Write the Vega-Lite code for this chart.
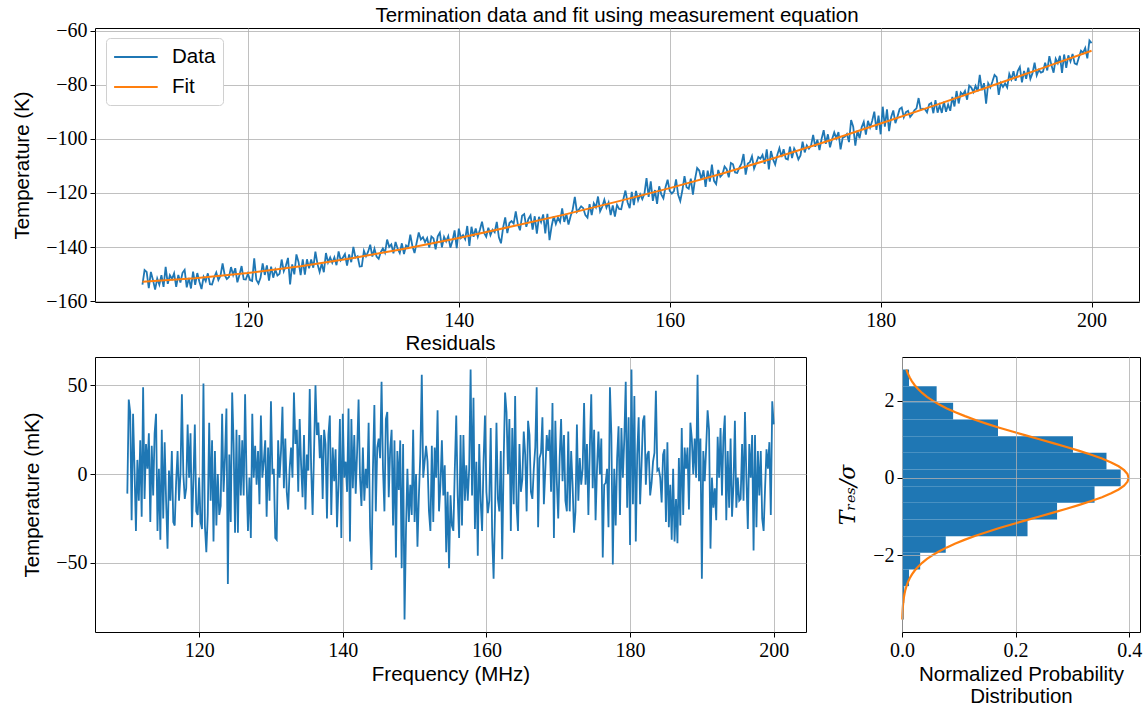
{
"$schema": "https://vega.github.io/schema/vega-lite/v6.json",
"padding": {"left": 12, "top": 5, "right": 5, "bottom": 5},
"bounds": "flush",
"spacing": 55,
"config": {
 "font": "Liberation Sans",
 "view": {"stroke": "black", "strokeWidth": 1},
 "axis": {"labelFont": "Liberation Serif", "labelFontSize": 20, "labelColor": "black", "titleFont": "Liberation Sans", "titleFontSize": 20.5, "titleFontWeight": "normal", "titleColor": "black", "tickColor": "black", "tickSize": 5, "tickWidth": 1, "domain": false, "gridColor": "#b0b0b0", "gridWidth": 0.8, "labelPadding": 3, "labelFlush": false, "labelOverlap": false, "titlePadding": 13},
 "title": {"font": "Liberation Sans", "fontSize": 20.5, "fontWeight": "normal", "color": "black", "offset": 3}
},
"datasets": {
"main": [
{"f":110.0,"r":-11,"t":-153.9},{"f":110.2,"r":42,"t":-148.5},{"f":110.4,"r":35,"t":-149.2},{"f":110.6,"r":-26,"t":-155.2},{"f":110.8,"r":34,"t":-149.2},
{"f":111.0,"r":3,"t":-152.2},{"f":111.2,"r":-32,"t":-155.7},{"f":111.4,"r":8,"t":-151.6},{"f":111.6,"r":-15,"t":-153.9},{"f":111.8,"r":19,"t":-150.4},
{"f":112.0,"r":-24,"t":-154.7},{"f":112.2,"r":49,"t":-147.3},{"f":112.4,"r":-14,"t":-153.6},{"f":112.6,"r":17,"t":-150.4},{"f":112.8,"r":3,"t":-151.8},
{"f":113.0,"r":23,"t":-149.7},{"f":113.2,"r":-27,"t":-154.7},{"f":113.4,"r":16,"t":-150.3},{"f":113.6,"r":-12,"t":-153.1},{"f":113.8,"r":23,"t":-149.5},
{"f":114.0,"r":34,"t":-148.4},{"f":114.2,"r":-32,"t":-154.9},{"f":114.4,"r":3,"t":-151.4},{"f":114.6,"r":-37,"t":-155.3},{"f":114.8,"r":25,"t":-149.1},
{"f":115.0,"r":-25,"t":-154.0},{"f":115.2,"r":18,"t":-149.6},{"f":115.4,"r":-15,"t":-152.8},{"f":115.6,"r":-42,"t":-155.5},{"f":115.8,"r":2,"t":-151.0},
{"f":116.0,"r":-15,"t":-152.6},{"f":116.2,"r":13,"t":-149.7},{"f":116.4,"r":-27,"t":-153.7},{"f":116.6,"r":-29,"t":-153.8},{"f":116.8,"r":-4,"t":-151.2},
{"f":117.0,"r":13,"t":-149.4},{"f":117.2,"r":-15,"t":-152.2},{"f":117.4,"r":0,"t":-150.6},{"f":117.6,"r":45,"t":-146.0},{"f":117.8,"r":0,"t":-150.4},
{"f":118.0,"r":-14,"t":-151.8},{"f":118.2,"r":-8,"t":-151.1},{"f":118.4,"r":28,"t":-147.4},{"f":118.6,"r":-2,"t":-150.3},{"f":118.8,"r":23,"t":-147.8},
{"f":119.0,"r":-30,"t":-153.0},{"f":119.2,"r":-4,"t":-150.3},{"f":119.4,"r":28,"t":-147.0},{"f":119.6,"r":-21,"t":-151.9},{"f":119.8,"r":-23,"t":-152.0},
{"f":120.0,"r":-2,"t":-149.8},{"f":120.2,"r":-27,"t":-152.2},{"f":120.4,"r":-31,"t":-152.5},{"f":120.6,"r":51,"t":-144.2},{"f":120.8,"r":-29,"t":-152.1},
{"f":121.0,"r":-44,"t":-153.5},{"f":121.2,"r":-23,"t":-151.3},{"f":121.4,"r":29,"t":-146.0},{"f":121.6,"r":-15,"t":-150.3},{"f":121.8,"r":19,"t":-146.8},
{"f":122.0,"r":-38,"t":-152.4},{"f":122.2,"r":13,"t":-147.2},{"f":122.4,"r":-29,"t":-151.3},{"f":122.6,"r":0,"t":-148.3},{"f":122.8,"r":-23,"t":-150.5},
{"f":123.0,"r":-18,"t":-149.9},{"f":123.2,"r":34,"t":-144.6},{"f":123.4,"r":-10,"t":-148.9},{"f":123.6,"r":9,"t":-146.9},{"f":123.8,"r":37,"t":-144.0},
{"f":124.0,"r":-62,"t":-153.8},{"f":124.2,"r":11,"t":-146.4},{"f":124.4,"r":-27,"t":-150.1},{"f":124.6,"r":46,"t":-142.7},{"f":124.8,"r":17,"t":-145.5},
{"f":125.0,"r":-33,"t":-150.4},{"f":125.2,"r":25,"t":-144.5},{"f":125.4,"r":-33,"t":-150.2},{"f":125.6,"r":22,"t":-144.5},{"f":125.8,"r":-12,"t":-147.8},
{"f":126.0,"r":19,"t":-144.6},{"f":126.2,"r":-12,"t":-147.6},{"f":126.4,"r":45,"t":-141.7},{"f":126.6,"r":-2,"t":-146.3},{"f":126.8,"r":-32,"t":-149.2},
{"f":127.0,"r":-2,"t":-146.1},{"f":127.2,"r":-36,"t":-149.3},{"f":127.4,"r":34,"t":-142.2},{"f":127.6,"r":-2,"t":-145.7},{"f":127.8,"r":16,"t":-143.8},
{"f":128.0,"r":-6,"t":-145.8},{"f":128.2,"r":13,"t":-143.8},{"f":128.4,"r":-17,"t":-146.7},{"f":128.6,"r":33,"t":-141.6},{"f":128.8,"r":-2,"t":-144.9},
{"f":129.0,"r":7,"t":-143.9},{"f":129.2,"r":19,"t":-142.6},{"f":129.4,"r":-24,"t":-146.8},{"f":129.6,"r":15,"t":-142.7},{"f":129.8,"r":-15,"t":-145.6},
{"f":130.0,"r":41,"t":-139.9},{"f":130.2,"r":0,"t":-143.9},{"f":130.4,"r":3,"t":-143.4},{"f":130.6,"r":-36,"t":-147.2},{"f":130.8,"r":-37,"t":-147.1},
{"f":131.0,"r":19,"t":-141.4},{"f":131.2,"r":-2,"t":-143.4},{"f":131.4,"r":13,"t":-141.7},{"f":131.6,"r":38,"t":-139.1},{"f":131.8,"r":-8,"t":-143.5},
{"f":132.0,"r":20,"t":-140.6},{"f":132.2,"r":-10,"t":-143.5},{"f":132.4,"r":-20,"t":-144.3},{"f":132.6,"r":3,"t":-141.9},{"f":132.8,"r":15,"t":-140.5},
{"f":133.0,"r":-2,"t":-142.1},{"f":133.2,"r":46,"t":-137.2},{"f":133.4,"r":17,"t":-139.9},{"f":133.6,"r":25,"t":-139.0},{"f":133.8,"r":-10,"t":-142.3},
{"f":134.0,"r":31,"t":-138.1},{"f":134.2,"r":5,"t":-140.6},{"f":134.4,"r":-13,"t":-142.2},{"f":134.6,"r":22,"t":-138.6},{"f":134.8,"r":-20,"t":-142.6},
{"f":135.0,"r":11,"t":-139.4},{"f":135.2,"r":2,"t":-140.1},{"f":135.4,"r":48,"t":-135.4},{"f":135.6,"r":3,"t":-139.7},{"f":135.8,"r":-23,"t":-142.2},
{"f":136.0,"r":13,"t":-138.4},{"f":136.2,"r":50,"t":-134.6},{"f":136.4,"r":22,"t":-137.2},{"f":136.6,"r":29,"t":-136.3},{"f":136.8,"r":9,"t":-138.2},
{"f":137.0,"r":22,"t":-136.7},{"f":137.2,"r":-14,"t":-140.2},{"f":137.4,"r":25,"t":-136.1},{"f":137.6,"r":17,"t":-136.8},{"f":137.8,"r":-25,"t":-140.8},
{"f":138.0,"r":22,"t":-136.0},{"f":138.2,"r":33,"t":-134.7},{"f":138.4,"r":-23,"t":-140.1},{"f":138.6,"r":15,"t":-136.2},{"f":138.8,"r":-4,"t":-137.9},
{"f":139.0,"r":14,"t":-136.0},{"f":139.2,"r":-30,"t":-140.2},{"f":139.4,"r":-6,"t":-137.7},{"f":139.6,"r":31,"t":-133.8},{"f":139.8,"r":-36,"t":-140.4},
{"f":140.0,"r":34,"t":-133.2},{"f":140.2,"r":-2,"t":-136.6},{"f":140.4,"r":7,"t":-135.6},{"f":140.6,"r":-10,"t":-137.1},{"f":140.8,"r":37,"t":-132.2},
{"f":141.0,"r":-38,"t":-139.6},{"f":141.2,"r":31,"t":-132.5},{"f":141.4,"r":-8,"t":-136.2},{"f":141.6,"r":22,"t":-133.1},{"f":141.8,"r":-11,"t":-136.2},
{"f":142.0,"r":13,"t":-133.6},{"f":142.2,"r":42,"t":-130.6},{"f":142.4,"r":-2,"t":-134.8},{"f":142.6,"r":-18,"t":-136.2},{"f":142.8,"r":15,"t":-132.8},
{"f":143.0,"r":-15,"t":-135.6},{"f":143.2,"r":3,"t":-133.6},{"f":143.4,"r":-8,"t":-134.5},{"f":143.6,"r":29,"t":-130.7},{"f":143.8,"r":-30,"t":-136.4},
{"f":144.0,"r":-54,"t":-138.6},{"f":144.2,"r":3,"t":-132.8},{"f":144.4,"r":39,"t":-129.0},{"f":144.6,"r":-21,"t":-134.8},{"f":144.8,"r":15,"t":-131.1},
{"f":145.0,"r":20,"t":-130.4},{"f":145.2,"r":9,"t":-131.3},{"f":145.4,"r":52,"t":-126.8},{"f":145.6,"r":3,"t":-131.6},{"f":145.8,"r":-21,"t":-133.8},
{"f":146.0,"r":31,"t":-128.4},{"f":146.2,"r":35,"t":-127.8},{"f":146.4,"r":-13,"t":-132.5},{"f":146.6,"r":14,"t":-129.6},{"f":146.8,"r":25,"t":-128.3},
{"f":147.0,"r":-29,"t":-133.5},{"f":147.2,"r":19,"t":-128.6},{"f":147.4,"r":-47,"t":-135.0},{"f":147.6,"r":13,"t":-128.8},{"f":147.8,"r":-9,"t":-130.8},
{"f":148.0,"r":19,"t":-127.9},{"f":148.2,"r":-53,"t":-134.9},{"f":148.4,"r":17,"t":-127.7},{"f":148.6,"r":-82,"t":-137.4},{"f":148.8,"r":-32,"t":-132.3},
{"f":149.0,"r":3,"t":-128.6},{"f":149.2,"r":-27,"t":-131.4},{"f":149.4,"r":-6,"t":-129.1},{"f":149.6,"r":-23,"t":-130.7},{"f":149.8,"r":25,"t":-125.7},
{"f":150.0,"r":-27,"t":-130.7},{"f":150.2,"r":0,"t":-127.8},{"f":150.4,"r":-41,"t":-131.7},{"f":150.6,"r":-12,"t":-128.6},{"f":150.8,"r":11,"t":-126.1},
{"f":151.0,"r":56,"t":-121.4},{"f":151.2,"r":-2,"t":-127.0},{"f":151.4,"r":7,"t":-126.0},{"f":151.6,"r":16,"t":-124.9},{"f":151.8,"r":7,"t":-125.6},
{"f":152.0,"r":-21,"t":-128.2},{"f":152.2,"r":-32,"t":-129.1},{"f":152.4,"r":16,"t":-124.1},{"f":152.6,"r":-27,"t":-128.2},{"f":152.8,"r":15,"t":-123.8},
{"f":153.0,"r":-2,"t":-125.3},{"f":153.2,"r":36,"t":-121.3},{"f":153.4,"r":-21,"t":-126.8},{"f":153.6,"r":-6,"t":-125.1},{"f":153.8,"r":19,"t":-122.5},
{"f":154.0,"r":-12,"t":-125.4},{"f":154.2,"r":5,"t":-123.5},{"f":154.4,"r":-44,"t":-128.2},{"f":154.6,"r":-10,"t":-124.6},{"f":154.8,"r":-53,"t":-128.7},
{"f":155.0,"r":-12,"t":-124.4},{"f":155.2,"r":-29,"t":-125.9},{"f":155.4,"r":-32,"t":-126.0},{"f":155.6,"r":3,"t":-122.3},{"f":155.8,"r":33,"t":-119.1},
{"f":156.0,"r":-12,"t":-123.4},{"f":156.2,"r":-36,"t":-125.6},{"f":156.4,"r":22,"t":-119.6},{"f":156.6,"r":-29,"t":-124.5},{"f":156.8,"r":22,"t":-119.2},
{"f":157.0,"r":-15,"t":-122.7},{"f":157.2,"r":5,"t":-120.5},{"f":157.4,"r":-15,"t":-122.3},{"f":157.6,"r":3,"t":-120.3},{"f":157.8,"r":59,"t":-114.5},
{"f":158.0,"r":-12,"t":-121.4},{"f":158.2,"r":43,"t":-115.7},{"f":158.4,"r":-31,"t":-122.9},{"f":158.6,"r":7,"t":-118.9},{"f":158.8,"r":-46,"t":-124.0},
{"f":159.0,"r":17,"t":-117.5},{"f":159.2,"r":-15,"t":-120.5},{"f":159.4,"r":-32,"t":-122.0},{"f":159.6,"r":7,"t":-117.9},{"f":159.8,"r":33,"t":-115.1},
{"f":160.0,"r":-10,"t":-119.2},{"f":160.2,"r":-22,"t":-120.2},{"f":160.4,"r":-15,"t":-119.3},{"f":160.6,"r":26,"t":-115.0},{"f":160.8,"r":-34,"t":-120.7},
{"f":161.0,"r":-59,"t":-123.0},{"f":161.2,"r":-21,"t":-119.0},{"f":161.4,"r":29,"t":-113.8},{"f":161.6,"r":-14,"t":-117.9},{"f":161.8,"r":-21,"t":-118.4},
{"f":162.0,"r":13,"t":-114.7},{"f":162.2,"r":-48,"t":-120.6},{"f":162.4,"r":7,"t":-114.9},{"f":162.6,"r":46,"t":-110.8},{"f":162.8,"r":35,"t":-111.7},
{"f":163.0,"r":0,"t":-115.0},{"f":163.2,"r":31,"t":-111.6},{"f":163.4,"r":-32,"t":-117.7},{"f":163.6,"r":26,"t":-111.7},{"f":163.8,"r":-17,"t":-115.8},
{"f":164.0,"r":44,"t":-109.5},{"f":164.2,"r":-18,"t":-115.5},{"f":164.4,"r":-32,"t":-116.7},{"f":164.6,"r":17,"t":-111.5},{"f":164.8,"r":-10,"t":-114.0},
{"f":165.0,"r":-3,"t":-113.1},{"f":165.2,"r":24,"t":-110.2},{"f":165.4,"r":11,"t":-111.2},{"f":165.6,"r":-21,"t":-114.2},{"f":165.8,"r":30,"t":-108.9},
{"f":166.0,"r":22,"t":-109.4},{"f":166.2,"r":-10,"t":-112.4},{"f":166.4,"r":-14,"t":-112.6},{"f":166.6,"r":3,"t":-110.6},{"f":166.8,"r":15,"t":-109.2},
{"f":167.0,"r":49,"t":-105.6},{"f":167.2,"r":-30,"t":-113.2},{"f":167.4,"r":9,"t":-109.1},{"f":167.6,"r":12,"t":-108.6},{"f":167.8,"r":32,"t":-106.4},
{"f":168.0,"r":-17,"t":-111.0},{"f":168.2,"r":2,"t":-108.9},{"f":168.4,"r":22,"t":-106.7},{"f":168.6,"r":13,"t":-107.3},{"f":168.8,"r":25,"t":-105.9},
{"f":169.0,"r":-10,"t":-109.2},{"f":169.2,"r":40,"t":-103.9},{"f":169.4,"r":-36,"t":-111.3},{"f":169.6,"r":30,"t":-104.5},{"f":169.8,"r":-4,"t":-107.6},
{"f":170.0,"r":-25,"t":-109.5},{"f":170.2,"r":9,"t":-105.9},{"f":170.4,"r":31,"t":-103.4},{"f":170.6,"r":-4,"t":-106.7},{"f":170.8,"r":22,"t":-103.8},
{"f":171.0,"r":-15,"t":-107.3},{"f":171.2,"r":-21,"t":-107.6},{"f":171.4,"r":24,"t":-102.9},{"f":171.6,"r":-21,"t":-107.1},{"f":171.8,"r":13,"t":-103.5},
{"f":172.0,"r":-6,"t":-105.1},{"f":172.2,"r":-33,"t":-107.6},{"f":172.4,"r":-21,"t":-106.1},{"f":172.6,"r":28,"t":-101.0},{"f":172.8,"r":-15,"t":-105.0},
{"f":173.0,"r":9,"t":-102.4},{"f":173.2,"r":-6,"t":-103.6},{"f":173.4,"r":3,"t":-102.5},{"f":173.6,"r":40,"t":-98.5},{"f":173.8,"r":-6,"t":-102.9},
{"f":174.0,"r":17,"t":-100.3},{"f":174.2,"r":-23,"t":-104.1},{"f":174.4,"r":15,"t":-100.0},{"f":174.6,"r":45,"t":-96.8},{"f":174.8,"r":-8,"t":-101.8},
{"f":175.0,"r":25,"t":-98.3},{"f":175.2,"r":-26,"t":-103.1},{"f":175.4,"r":3,"t":-100.0},{"f":175.6,"r":24,"t":-97.6},{"f":175.8,"r":0,"t":-99.8},
{"f":176.0,"r":20,"t":-97.5},{"f":176.2,"r":-47,"t":-103.9},{"f":176.4,"r":-6,"t":-99.6},{"f":176.6,"r":-5,"t":-99.2},{"f":176.8,"r":3,"t":-98.2},
{"f":177.0,"r":-30,"t":-101.2},{"f":177.2,"r":49,"t":-93.0},{"f":177.4,"r":22,"t":-95.5},{"f":177.6,"r":-51,"t":-102.5},{"f":177.8,"r":3,"t":-96.9},
{"f":178.0,"r":-29,"t":-99.8},{"f":178.2,"r":9,"t":-95.7},{"f":178.4,"r":27,"t":-93.7},{"f":178.6,"r":-23,"t":-98.4},{"f":178.8,"r":26,"t":-93.3},
{"f":179.0,"r":-2,"t":-95.8},{"f":179.2,"r":20,"t":-93.3},{"f":179.4,"r":52,"t":-89.9},{"f":179.6,"r":-19,"t":-96.7},{"f":179.8,"r":32,"t":-91.4},
{"f":180.0,"r":-40,"t":-98.3},{"f":180.2,"r":59,"t":-88.1},{"f":180.4,"r":-17,"t":-95.5},{"f":180.6,"r":44,"t":-89.1},{"f":180.8,"r":-38,"t":-97.1},
{"f":181.0,"r":11,"t":-91.9},{"f":181.2,"r":32,"t":-89.5},{"f":181.4,"r":-17,"t":-94.2},{"f":181.6,"r":5,"t":-91.7},{"f":181.8,"r":30,"t":-89.0},
{"f":182.0,"r":33,"t":-88.4},{"f":182.2,"r":-6,"t":-92.0},{"f":182.4,"r":11,"t":-90.1},{"f":182.6,"r":13,"t":-89.6},{"f":182.8,"r":-12,"t":-91.9},
{"f":183.0,"r":-5,"t":-90.9},{"f":183.2,"r":7,"t":-89.4},{"f":183.4,"r":12,"t":-88.7},{"f":183.6,"r":47,"t":-84.9},{"f":183.8,"r":2,"t":-89.2},
{"f":184.0,"r":3,"t":-88.8},{"f":184.2,"r":-2,"t":-89.0},{"f":184.4,"r":-16,"t":-90.2},{"f":184.6,"r":11,"t":-87.2},{"f":184.8,"r":14,"t":-86.7},
{"f":185.0,"r":-27,"t":-90.5},{"f":185.2,"r":18,"t":-85.7},{"f":185.4,"r":-30,"t":-90.3},{"f":185.6,"r":-6,"t":-87.6},{"f":185.8,"r":-37,"t":-90.4},
{"f":186.0,"r":3,"t":-86.2},{"f":186.2,"r":-38,"t":-90.0},{"f":186.4,"r":-14,"t":-87.3},{"f":186.6,"r":-39,"t":-89.6},{"f":186.8,"r":9,"t":-84.5},
{"f":187.0,"r":-29,"t":-88.0},{"f":187.2,"r":26,"t":-82.3},{"f":187.4,"r":-23,"t":-86.9},{"f":187.6,"r":15,"t":-82.8},{"f":187.8,"r":3,"t":-83.7},
{"f":188.0,"r":15,"t":-82.3},{"f":188.2,"r":-20,"t":-85.5},{"f":188.4,"r":29,"t":-80.3},{"f":188.6,"r":20,"t":-81.0},{"f":188.8,"r":0,"t":-82.7},
{"f":189.0,"r":20,"t":-80.4},{"f":189.2,"r":-2,"t":-82.4},{"f":189.4,"r":56,"t":-76.3},{"f":189.6,"r":-4,"t":-82.0},{"f":189.8,"r":20,"t":-79.4},
{"f":190.0,"r":-59,"t":-87.0},{"f":190.2,"r":13,"t":-79.5},{"f":190.4,"r":-4,"t":-81.0},{"f":190.6,"r":15,"t":-78.8},{"f":190.8,"r":36,"t":-76.4},
{"f":191.0,"r":25,"t":-77.2},{"f":191.2,"r":-42,"t":-83.7},{"f":191.4,"r":-2,"t":-79.4},{"f":191.6,"r":-19,"t":-80.8},{"f":191.8,"r":-8,"t":-79.5},
{"f":192.0,"r":-26,"t":-81.0},{"f":192.2,"r":21,"t":-76.0},{"f":192.4,"r":-2,"t":-78.0},{"f":192.6,"r":26,"t":-75.0},{"f":192.8,"r":-12,"t":-78.5},
{"f":193.0,"r":21,"t":-74.9},{"f":193.2,"r":33,"t":-73.4},{"f":193.4,"r":-26,"t":-79.1},{"f":193.6,"r":13,"t":-74.9},{"f":193.8,"r":-19,"t":-77.8},
{"f":194.0,"r":20,"t":-73.7},{"f":194.2,"r":-24,"t":-77.8},{"f":194.4,"r":-6,"t":-75.7},{"f":194.6,"r":30,"t":-71.8},{"f":194.8,"r":-19,"t":-76.5},
{"f":195.0,"r":-2,"t":-74.5},{"f":195.2,"r":-15,"t":-75.5},{"f":195.4,"r":-14,"t":-75.1},{"f":195.6,"r":17,"t":-71.8},{"f":195.8,"r":-15,"t":-74.7},
{"f":196.0,"r":35,"t":-69.4},{"f":196.2,"r":-2,"t":-72.8},{"f":196.4,"r":-31,"t":-75.5},{"f":196.6,"r":17,"t":-70.4},{"f":196.8,"r":-2,"t":-72.0},
{"f":197.0,"r":22,"t":-69.3},{"f":197.2,"r":-43,"t":-75.6},{"f":197.4,"r":22,"t":-68.8},{"f":197.6,"r":-30,"t":-73.7},{"f":197.8,"r":13,"t":-69.1},
{"f":198.0,"r":-12,"t":-71.4},{"f":198.2,"r":13,"t":-68.6},{"f":198.4,"r":-25,"t":-72.1},{"f":198.6,"r":-32,"t":-72.5},{"f":198.8,"r":-8,"t":-69.9},
{"f":199.0,"r":14,"t":-67.4},{"f":199.2,"r":3,"t":-68.2},{"f":199.4,"r":18,"t":-66.4},{"f":199.6,"r":-23,"t":-70.2},{"f":199.8,"r":41,"t":-63.6},
{"f":200.0,"r":28,"t":-64.6}
],
"fit": [
{"f":110,"v":-152.8},{"f":115,"v":-151.5},{"f":120,"v":-149.6},{"f":125,"v":-147.1},{"f":130,"v":-144.0},{"f":135,"v":-140.5},{"f":140,"v":-136.6},{"f":145,"v":-132.4},{"f":150,"v":-128.0},{"f":155,"v":-123.2},{"f":160,"v":-118.2},{"f":165,"v":-112.8},{"f":170,"v":-107.0},{"f":175,"v":-100.8},{"f":180,"v":-94.3},{"f":185,"v":-87.8},{"f":190,"v":-81.1},{"f":195,"v":-74.3},{"f":200,"v":-67.4}
],
"hist": [
{"lo":2.375,"hi":2.807,"d":0.0124},{"lo":1.944,"hi":2.375,"d":0.061},{"lo":1.512,"hi":1.944,"d":0.090},{"lo":1.080,"hi":1.512,"d":0.169},{"lo":0.649,"hi":1.080,"d":0.301},{"lo":0.217,"hi":0.649,"d":0.360},{"lo":-0.214,"hi":0.217,"d":0.385},{"lo":-0.646,"hi":-0.214,"d":0.339},{"lo":-1.078,"hi":-0.646,"d":0.273},{"lo":-1.509,"hi":-1.078,"d":0.221},{"lo":-1.941,"hi":-1.509,"d":0.077},{"lo":-2.373,"hi":-1.941,"d":0.032},{"lo":-2.804,"hi":-2.373,"d":0.0124},{"lo":-3.236,"hi":-2.804,"d":0.004},{"lo":-3.668,"hi":-3.236,"d":0.003}
],
"gauss": [
{"z":-3.668,"p":0.00047},{"z":-3.6,"p":0.00061},{"z":-3.5,"p":0.00087},{"z":-3.4,"p":0.00123},{"z":-3.3,"p":0.00172},{"z":-3.2,"p":0.00238},{"z":-3.1,"p":0.00327},{"z":-3.0,"p":0.00443},{"z":-2.9,"p":0.00595},{"z":-2.8,"p":0.00792},{"z":-2.7,"p":0.01042},{"z":-2.6,"p":0.01358},{"z":-2.5,"p":0.01753},{"z":-2.4,"p":0.02239},{"z":-2.3,"p":0.02833},{"z":-2.2,"p":0.03547},{"z":-2.1,"p":0.04398},{"z":-2.0,"p":0.05399},{"z":-1.9,"p":0.06562},{"z":-1.8,"p":0.07895},{"z":-1.7,"p":0.09405},{"z":-1.6,"p":0.11092},{"z":-1.5,"p":0.12952},{"z":-1.4,"p":0.14973},{"z":-1.3,"p":0.17137},{"z":-1.2,"p":0.19419},{"z":-1.1,"p":0.21785},{"z":-1.0,"p":0.24197},{"z":-0.9,"p":0.26609},{"z":-0.8,"p":0.28969},{"z":-0.7,"p":0.31225},{"z":-0.6,"p":0.33322},{"z":-0.5,"p":0.35207},{"z":-0.4,"p":0.36827},{"z":-0.3,"p":0.38139},{"z":-0.2,"p":0.39104},{"z":-0.1,"p":0.39695},{"z":0,"p":0.39894},{"z":0.1,"p":0.39695},{"z":0.2,"p":0.39104},{"z":0.3,"p":0.38139},{"z":0.4,"p":0.36827},{"z":0.5,"p":0.35207},{"z":0.6,"p":0.33322},{"z":0.7,"p":0.31225},{"z":0.8,"p":0.28969},{"z":0.9,"p":0.26609},{"z":1.0,"p":0.24197},{"z":1.1,"p":0.21785},{"z":1.2,"p":0.19419},{"z":1.3,"p":0.17137},{"z":1.4,"p":0.14973},{"z":1.5,"p":0.12952},{"z":1.6,"p":0.11092},{"z":1.7,"p":0.09405},{"z":1.8,"p":0.07895},{"z":1.9,"p":0.06562},{"z":2.0,"p":0.05399},{"z":2.1,"p":0.04398},{"z":2.2,"p":0.03547},{"z":2.3,"p":0.02833},{"z":2.4,"p":0.02239},{"z":2.5,"p":0.01753},{"z":2.6,"p":0.01358},{"z":2.7,"p":0.01042},{"z":2.8,"p":0.00792},{"z":2.807,"p":0.00777}
]
},
"vconcat": [
{
 "title": {"text": "Termination data and fit using measurement equation", "offset": -6},
 "width": 1044, "height": 274,
 "layer": [
  {"data": {"name": "main"},
   "mark": {"type": "line", "strokeWidth": 1.8},
   "encoding": {
    "x": {"field": "f", "type": "quantitative", "scale": {"domain": [105.5, 204.5], "nice": false, "zero": false}, "axis": {"values": [120,140,160,180,200], "title": null}},
    "y": {"field": "t", "type": "quantitative", "scale": {"domain": [-160.3, -59.0], "nice": false, "zero": false}, "axis": {"values": [-160,-140,-120,-100,-80,-60], "title": "Temperature (K)"}},
    "color": {"datum": "Data", "type": "nominal", "scale": {"domain": ["Data","Fit"], "range": ["#1f77b4","#ff7f0e"]},
      "legend": {"orient": "none", "legendX": 11, "legendY": 10, "title": null, "symbolType": "M-1,0H3", "symbolSize": 475, "symbolStrokeWidth": 2, "labelFontSize": 20.5, "labelFont": "Liberation Sans", "labelColor": "black", "strokeColor": "#d0d0d0", "fillColor": "white", "cornerRadius": 4, "padding": 7, "rowPadding": 7, "labelOffset": 35}}
   }},
  {"data": {"name": "fit"},
   "mark": {"type": "line", "strokeWidth": 2},
   "encoding": {
    "x": {"field": "f", "type": "quantitative"},
    "y": {"field": "v", "type": "quantitative"},
    "color": {"datum": "Fit", "type": "nominal"}
   }}
 ]
},
{
 "bounds": "flush",
 "spacing": 96,
 "hconcat": [
  {
   "title": {"text": "Residuals", "offset": 3},
   "width": 711, "height": 275,
   "data": {"name": "main"},
   "mark": {"type": "line", "color": "#1f77b4", "strokeWidth": 1.8},
   "encoding": {
    "x": {"field": "f", "type": "quantitative", "scale": {"domain": [105.5, 204.5], "nice": false, "zero": false}, "axis": {"values": [120,140,160,180,200], "title": "Frequency (MHz)", "titlePadding": 4}},
    "y": {"field": "r", "type": "quantitative", "scale": {"domain": [-89, 66], "nice": false, "zero": false}, "axis": {"values": [-50,0,50], "title": "Temperature (mK)"}}
   }
  },
  {
   "width": 238, "height": 275,
   "layer": [
    {"data": {"name": "hist"},
     "mark": {"type": "rect", "color": "#1f77b4"},
     "encoding": {
      "x": {"field": "d", "type": "quantitative", "scale": {"domain": [0, 0.419], "nice": false, "zero": false}, "axis": {"values": [0,0.2,0.4], "format": ".1f", "title": ["Normalized Probability", "Distribution"], "titleLineHeight": 22, "titlePadding": 4, "zindex": 1}},
      "x2": {"datum": 0},
      "y": {"field": "lo", "type": "quantitative", "scale": {"domain": [-3.992, 3.131], "nice": false, "zero": false}, "axis": {"values": [-2,0,2], "title": "Tᵣₑₛ/σ", "titleFont": "DejaVu Serif", "titleFontStyle": "italic", "titleFontSize": 22, "zindex": 1}},
      "y2": {"field": "hi"}
     }},
    {"data": {"name": "gauss"},
     "mark": {"type": "line", "color": "#ff7f0e", "strokeWidth": 2.2},
     "encoding": {
      "x": {"field": "p", "type": "quantitative"},
      "y": {"field": "z", "type": "quantitative"},
      "order": {"field": "z", "type": "quantitative"}
     }}
   ]
  }
 ]
}
]
}
